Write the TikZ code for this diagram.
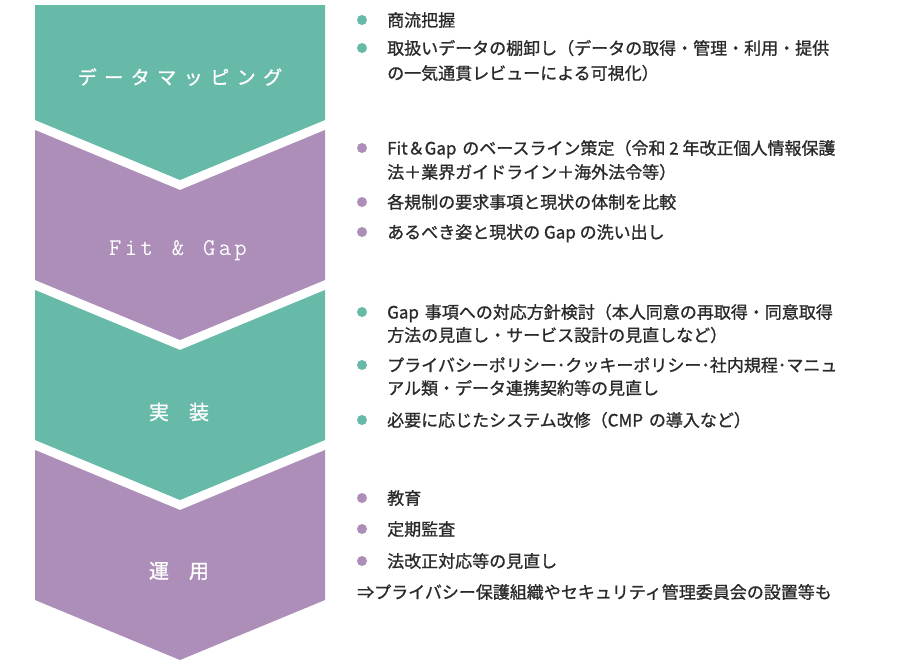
\documentclass[tikz,border=0pt]{standalone}
\usepackage{fontspec}
\setmainfont{Noto Sans CJK JP}[FakeBold=1.1]
\definecolor{tealc}{HTML}{67BAA8}
\definecolor{purpc}{HTML}{AD8EB9}
\definecolor{txtc}{HTML}{2A2A2A}
\newcommand\ls{\hspace{7.5pt}}
\newcommand\lm{\hspace{3.3pt}}
\tikzset{
  lbl/.style={text=white, inner sep=0, font=\fontsize{19}{22}\selectfont},
  line/.style={anchor=base west, inner sep=0, text=txtc, font=\fontsize{17}{20}\selectfont},
  dotT/.style={circle, fill=tealc, minimum size=10pt, inner sep=0},
  dotP/.style={circle, fill=purpc, minimum size=10pt, inner sep=0},
}
\begin{document}
\begin{tikzpicture}[x=1pt,y=-1pt]
\useasboundingbox (0,0) rectangle (900,670);
% chevrons
\fill[tealc] (35,5) -- (325,5) -- (325,120) -- (180,180) -- (35,120) -- cycle;
\fill[purpc] (35,130) -- (180,190) -- (325,130) -- (325,280) -- (180,340) -- (35,280) -- cycle;
\fill[tealc] (35,290) -- (180,350) -- (325,290) -- (325,440) -- (180,500) -- (35,440) -- cycle;
\fill[purpc] (35,450) -- (180,510) -- (325,450) -- (325,600) -- (180,660) -- (35,600) -- cycle;
% labels
\node[lbl] (s1) at (180,77) {デ\ls ー\ls タ\ls マ\ls ッ\ls ピ\ls ン\ls グ};
\node[lbl, font=\fontsize{24}{26}\ttfamily\addfontfeatures{FakeBold=2.5}] (s2) at (178,251) {F\lm i\lm t\lm\ \lm\&\lm\ \lm G\lm a\lm p};
\node[lbl, font=\fontsize{20}{22}\selectfont] (s3) at (179,412) {実　装};
\node[lbl, font=\fontsize{20}{22}\selectfont] (s4) at (179,571) {運　用};
% bullets
\node[dotT] (b1) at (362,20) {};
\node[dotT] (b2) at (362,48) {};
\node[dotP] (b4) at (362,148) {};
\node[dotP] (b6) at (362,202) {};
\node[dotP] (b7) at (362,232) {};
\node[dotT] (b8) at (362,312) {};
\node[dotT] (b10) at (362,365) {};
\node[dotT] (b12) at (362,420) {};
\node[dotP] (b13) at (362,498) {};
\node[dotP] (b14) at (362,529) {};
\node[dotP] (b15) at (362,561) {};
% text lines
\node[line] (l1) at (387,26.5) {商流把握};
\node[line] (l2) at (387,54.5) {取扱いデータの棚卸し（データの取得・管理・利用・提供};
\node[line] (l3) at (387,79.5) {の一気通貫レビューによる可視化）};
\node[line] (l4) at (387,154.5) {Fit＆Gap\hspace{2pt} のベースライン策定（令和 2 年改正個人情報保護};
\node[line] (l5) at (387,178.5) {法＋業界ガイドライン＋海外法令等）};
\node[line] (l6) at (387,208.5) {各規制の要求事項と現状の体制を比較};
\node[line] (l7) at (387,238.5) {あるべき姿と現状の Gap の洗い出し};
\node[line] (l8) at (387,318.5) {Gap\hspace{2pt} 事項への対応方針検討（本人同意の再取得・同意取得};
\node[line] (l9) at (387,341.5) {方法の見直し・サービス設計の見直しなど）};
\node[line] (l10) at (387,371.5) {プライバシーポリシー･クッキーポリシー･社内規程･マニュ};
\node[line] (l11) at (387,394.5) {アル類・データ連携契約等の見直し};
\node[line] (l12) at (387,426.5) {必要に応じたシステム改修（CMP\hspace{2pt} の導入など）};
\node[line] (l13) at (387,504.5) {教育};
\node[line] (l14) at (387,535.5) {定期監査};
\node[line] (l15) at (387,567.5) {法改正対応等の見直し};
\node[line] (l16) at (357,598.5) {⇒プライバシー保護組織やセキュリティ管理委員会の設置等も};
\end{tikzpicture}
\end{document}
